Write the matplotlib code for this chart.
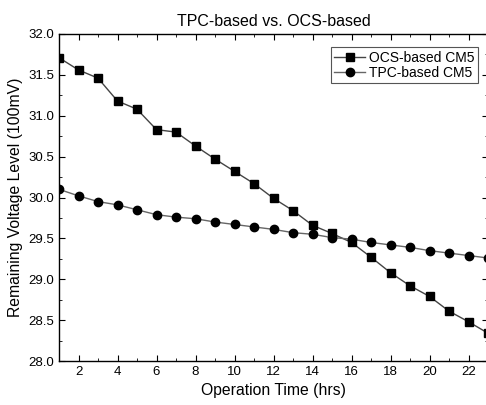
import matplotlib
matplotlib.use("Agg")
import matplotlib.pyplot as plt
from matplotlib.ticker import MultipleLocator

hours = list(range(1, 24))
ocs_cm5 = [31.71, 31.56, 31.46, 31.18, 31.08, 30.83, 30.80, 30.63, 30.47, 30.32,
           30.17, 29.99, 29.84, 29.66, 29.56, 29.45, 29.27, 29.08, 28.92, 28.79,
           28.61, 28.48, 28.34]
tpc_cm5 = [30.10, 30.02, 29.95, 29.91, 29.85, 29.79, 29.76, 29.74, 29.70, 29.67,
           29.64, 29.61, 29.57, 29.55, 29.51, 29.49, 29.45, 29.42, 29.39, 29.35,
           29.32, 29.29, 29.26]

plt.rcParams["font.family"] = ["Liberation Sans", "DejaVu Sans"]

fig = plt.figure(figsize=(4.86, 4.05), dpi=100)
# axes runs off the right edge like the scanned original
ax = fig.add_axes([59 / 486, 1 - 361 / 405, 429 / 486, 327 / 405])

ax.plot(hours, ocs_cm5, color="#444444", lw=1.0, marker="s", ms=6,
        mfc="black", mec="black", label="OCS-based CM5")
ax.plot(hours, tpc_cm5, color="#666666", lw=1.0, marker="o", ms=6,
        mfc="black", mec="black", label="TPC-based CM5")

ax.set_xlim(1, 23)
ax.set_ylim(28.0, 32.0)
ax.xaxis.set_minor_locator(MultipleLocator(1))
ax.yaxis.set_major_locator(MultipleLocator(0.5))
ax.yaxis.set_minor_locator(MultipleLocator(0.25))
ax.set_xticks(range(2, 23, 2))
ax.tick_params(which="both", direction="in", top=True, right=True, labelsize=9.5)
ax.tick_params(which="major", length=4)
ax.tick_params(which="minor", length=2)
for s in ax.spines.values():
    s.set_linewidth(1.0)
ax.spines["right"].set_color("#999999")

ax.set_xlabel("Operation Time (hrs)", fontsize=11.3, labelpad=4)
ax.set_ylabel("Remaining Voltage Level (100mV)", fontsize=11.3, labelpad=4)
ax.set_title("TPC-based vs. OCS-based", fontsize=11.5, pad=6)

leg = ax.legend(loc="upper right", bbox_to_anchor=(0.977, 0.96), fontsize=10,
                fancybox=False, framealpha=1, edgecolor="#555555",
                handlelength=2.2, borderpad=0.25, labelspacing=0.1,
                handletextpad=0.3, borderaxespad=0)
leg.get_frame().set_linewidth(0.8)

fig.savefig("out.png", dpi=100)
